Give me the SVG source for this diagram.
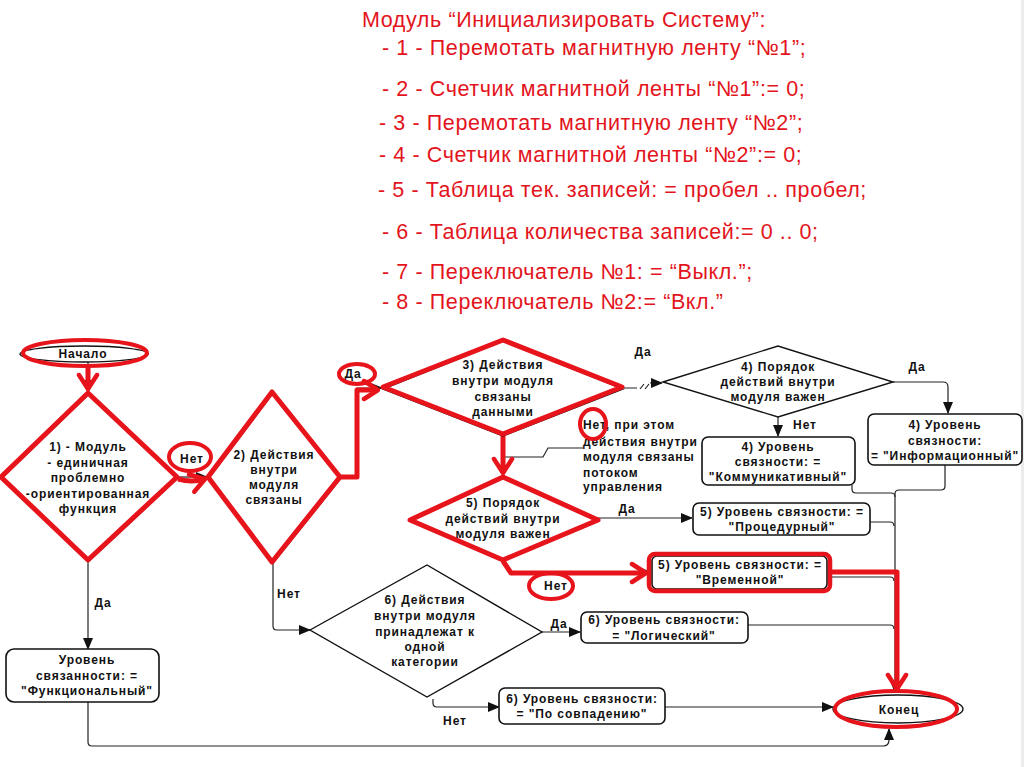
<svg xmlns="http://www.w3.org/2000/svg" width="1024" height="767" viewBox="0 0 1024 767">
<style>
.hdr{font-family:"Liberation Sans",Arial,sans-serif;font-size:21.5px;letter-spacing:0.6px;fill:#e3141c}
.t{font-family:"Liberation Sans",Arial,sans-serif;font-size:12px;font-weight:bold;letter-spacing:0.9px;fill:#111;text-anchor:middle}
.tl{font-family:"Liberation Sans",Arial,sans-serif;font-size:12px;font-weight:bold;letter-spacing:0.9px;fill:#111}
.shape{fill:#fff;stroke:#111;stroke-width:1.4}
.box{fill:#fff;stroke:#111;stroke-width:1.6}
.rshape{fill:none;stroke:#e8141c;stroke-width:5;stroke-linejoin:round}
.ring{fill:none;stroke:#e8141c;stroke-width:4}
.c{fill:none;stroke:#222;stroke-width:1.2}
.rc{fill:none;stroke:#e8141c;stroke-width:5;stroke-linejoin:round}
</style>
<defs>
<marker id="ah" markerUnits="userSpaceOnUse" markerWidth="12" markerHeight="10" viewBox="0 0 12 10" refX="11" refY="5" orient="auto">
<path d="M0,0 L12,5 L0,10 Z" fill="#111"/>
</marker>
<marker id="rah" markerUnits="userSpaceOnUse" markerWidth="20" markerHeight="24" viewBox="-18 -12 20 24" refX="0" refY="0" orient="auto">
<path d="M-14,-9 L0,0 L-14,9" fill="none" stroke="#e8141c" stroke-width="4.5" stroke-linecap="round" stroke-linejoin="round"/>
</marker>
</defs>
<rect width="1024" height="767" fill="#fff"/>
<rect x="1021" y="0" width="3" height="767" fill="#ececec"/>

<g id="header">
<text class="hdr" x="362" y="27">Модуль “Инициализировать Систему”:</text>
<text class="hdr" x="382" y="55">- 1 - Перемотать магнитную ленту “№1”;</text>
<text class="hdr" x="382" y="96">- 2 - Счетчик магнитной ленты “№1”:= 0;</text>
<text class="hdr" x="379" y="130">- 3 - Перемотать магнитную ленту “№2”;</text>
<text class="hdr" x="379" y="162">- 4 - Счетчик магнитной ленты “№2”:= 0;</text>
<text class="hdr" x="378" y="197">- 5 - Таблица тек. записей: = пробел .. пробел;</text>
<text class="hdr" x="382" y="239">- 6 - Таблица количества записей:= 0 .. 0;</text>
<text class="hdr" x="382" y="279">- 7 - Переключатель №1: = “Выкл.”;</text>
<text class="hdr" x="382" y="309">- 8 - Переключатель №2:= “Вкл.”</text>
</g>

<g id="connectors">
<path class="c" d="M88 361 V391" marker-end="url(#ah)"/>
<path class="c" d="M177 477 H207" marker-end="url(#ah)"/>
<path class="c" d="M340 477 H357 V388 H382" marker-end="url(#ah)"/>
<path class="c" d="M623 388 H637 M640 389 L644 384 M645 389 L649 384 M650 383 H662" marker-end="url(#ah)"/>
<path class="c" d="M503 435 V476" marker-end="url(#ah)"/>
<path class="c" d="M505 457 H543 L548 448 H583"/>
<path class="c" d="M893 382 H943 Q948 382 948 387 V413" marker-end="url(#ah)"/>
<path class="c" d="M778 417 V436" marker-end="url(#ah)"/>
<path class="c" d="M598 518 H692" marker-end="url(#ah)"/>
<path class="c" d="M503 560 L510 572 H650" marker-end="url(#ah)"/>
<path class="c" d="M273 562 V626 Q273 630 277 630 H310" marker-end="url(#ah)"/>
<path class="c" d="M542 632 H580" marker-end="url(#ah)"/>
<path class="c" d="M433 699 V703 Q433 707 437 707 H499" marker-end="url(#ah)"/>
<path class="c" d="M665 707 H833" marker-end="url(#ah)"/>
<path class="c" d="M88 560 V649" marker-end="url(#ah)"/>
<path class="c" d="M88 702 V742 Q88 746 92 746 H883 Q889 746 889 740 V729" marker-end="url(#ah)"/>
<path class="c" d="M852 485 V489 Q852 493 856 493 H891 Q895 493 895 497"/>
<path class="c" d="M945 465 V486 Q945 490 941 490 H899 Q895 490 895 494"/>
<path class="c" d="M895 494 V692" marker-end="url(#ah)"/>
<path class="c" d="M870 522 H890 Q894 522 894 526"/>
<path class="c" d="M828 577 H890 Q894 577 894 581"/>
<path class="c" d="M748 625 H890 Q894 625 894 629"/>
<path class="rc" d="M88 367 V389" marker-end="url(#rah)"/>
<path class="rc" d="M178 479 Q192 483 205 479" marker-end="url(#rah)"/>
<path class="rc" d="M340 477 H357 V390 H378" marker-end="url(#rah)"/>
<path class="rc" d="M503 436 V473" marker-end="url(#rah)"/>
<path class="rc" d="M503 561 L511 573 H646" marker-end="url(#rah)"/>
<path class="rc" d="M829 572 H897 V689" marker-end="url(#rah)"/>
<g id="labels">
<text class="t" x="192" y="463">Нет</text>
<text class="t" x="353" y="378">Да</text>
<text class="t" x="643" y="356">Да</text>
<text class="t" x="917" y="371">Да</text>
<text class="t" x="805" y="429">Нет</text>
<text class="tl" x="583" y="429">Нет, при этом</text>
<text class="tl" x="583" y="446">действия внутри</text>
<text class="tl" x="583" y="461">модуля связаны</text>
<text class="tl" x="583" y="477">потоком</text>
<text class="tl" x="583" y="491">управления</text>
<text class="t" x="627" y="513">Да</text>
<text class="t" x="556" y="590">Нет</text>
<text class="t" x="559" y="628">Да</text>
<text class="t" x="289" y="598">Нет</text>
<text class="t" x="455" y="725">Нет</text>
<text class="t" x="103" y="607">Да</text>
</g>
<g id="annotations">
<ellipse class="ring" cx="190" cy="457" rx="21" ry="14"/>
<ellipse class="ring" cx="357" cy="374" rx="18" ry="10"/>
<ellipse class="ring" cx="593" cy="424" rx="13" ry="15"/>
<ellipse class="ring" cx="551" cy="586" rx="22" ry="13"/>
</g>
</g>

<g id="n-start">
<ellipse class="shape" cx="84" cy="354" rx="64" ry="8"/>
<ellipse class="ring" cx="85" cy="353" rx="62" ry="13"/>
<text class="t" x="83" y="358">Начало</text>
</g>

<g id="n-d1">
<polygon class="shape" points="89,394 178,478 89,561 2,478"/>
<polygon class="rshape" points="88,393 177,477 88,560 1,477"/>
<text class="t" x="88" y="451">1) - Модуль</text>
<text class="t" x="88" y="467">- единичная</text>
<text class="t" x="88" y="482">проблемно</text>
<text class="t" x="88" y="498">-ориентированная</text>
<text class="t" x="88" y="513">функция</text>
</g>

<g id="n-d2">
<polygon class="shape" points="273,393 341,478 273,563 209,478"/>
<polygon class="rshape" points="272,392 340,477 272,562 208,477"/>
<text class="t" x="274" y="459">2) Действия</text>
<text class="t" x="274" y="474">внутри</text>
<text class="t" x="274" y="489">модуля</text>
<text class="t" x="274" y="504">связаны</text>
</g>

<g id="n-d3">
<polygon class="shape" points="383,389 503,341 623,389 503,436"/>
<polygon class="rshape" points="383,387 503,340 622,387 503,434"/>
<text class="t" x="503" y="369">3) Действия</text>
<text class="t" x="503" y="385">внутри модуля</text>
<text class="t" x="503" y="401">связаны</text>
<text class="t" x="503" y="416">данными</text>
</g>

<g id="n-d4">
<polygon class="shape" points="663,382 778,346 893,382 778,417"/>
<text class="t" x="778" y="371">4) Порядок</text>
<text class="t" x="778" y="386">действий внутри</text>
<text class="t" x="778" y="401">модуля важен</text>
</g>

<g id="n-b4k">
<rect class="box" x="702" y="437" width="153" height="48" rx="6"/>
<text class="t" x="778" y="451">4) Уровень</text>
<text class="t" x="778" y="466">связности: =</text>
<text class="t" x="778" y="481">"Коммуникативный"</text>
</g>

<g id="n-b4i">
<rect class="box" x="868" y="414" width="154" height="51" rx="6"/>
<text class="t" x="945" y="429">4) Уровень</text>
<text class="t" x="945" y="445">связности:</text>
<text class="t" x="945" y="460">= "Информационный"</text>
</g>

<g id="n-d5">
<polygon class="shape" points="411,521 503,478 599,521 503,561"/>
<polygon class="rshape" points="410,520 503,477 598,520 503,560"/>
<text class="t" x="503" y="507">5) Порядок</text>
<text class="t" x="503" y="523">действий внутри</text>
<text class="t" x="503" y="538">модуля важен</text>
</g>

<g id="n-b5p">
<rect class="box" x="693" y="503" width="177" height="32" rx="6"/>
<text class="t" x="782" y="516">5) Уровень связности: =</text>
<text class="t" x="782" y="531">"Процедурный"</text>
</g>

<g id="n-b5v">
<rect class="box" x="652" y="556" width="175" height="33" rx="5"/>
<rect fill="none" stroke="#e8141c" stroke-width="4.5" x="649" y="554" width="181" height="37" rx="6"/>
<text class="t" x="740" y="569">5) Уровень связности: =</text>
<text class="t" x="740" y="584">"Временной"</text>
</g>

<g id="n-d6">
<polygon class="shape" points="310,630 427,565 542,632 427,697"/>
<text class="t" x="425" y="604">6) Действия</text>
<text class="t" x="425" y="620">внутри модуля</text>
<text class="t" x="425" y="636">принадлежат к</text>
<text class="t" x="425" y="651">одной</text>
<text class="t" x="425" y="666">категории</text>
</g>

<g id="n-b6l">
<rect class="box" x="581" y="612" width="167" height="31" rx="6"/>
<text class="t" x="664" y="624">6) Уровень связности:</text>
<text class="t" x="664" y="640">= "Логический"</text>
</g>

<g id="n-b6s">
<rect class="box" x="499" y="688" width="166" height="36" rx="6"/>
<text class="t" x="582" y="703">6) Уровень связности:</text>
<text class="t" x="582" y="718">= "По совпадению"</text>
</g>

<g id="n-bf">
<rect class="box" x="6" y="649" width="153" height="53" rx="8"/>
<text class="t" x="87" y="664">Уровень</text>
<text class="t" x="87" y="680">связанности: =</text>
<text class="t" x="87" y="695">"Функциональный"</text>
</g>

<g id="n-end">
<ellipse class="shape" cx="898" cy="709" rx="65" ry="14"/>
<ellipse class="ring" cx="896" cy="709" rx="61" ry="18"/>
<text class="t" x="899" y="714">Конец</text>
</g>
</svg>
